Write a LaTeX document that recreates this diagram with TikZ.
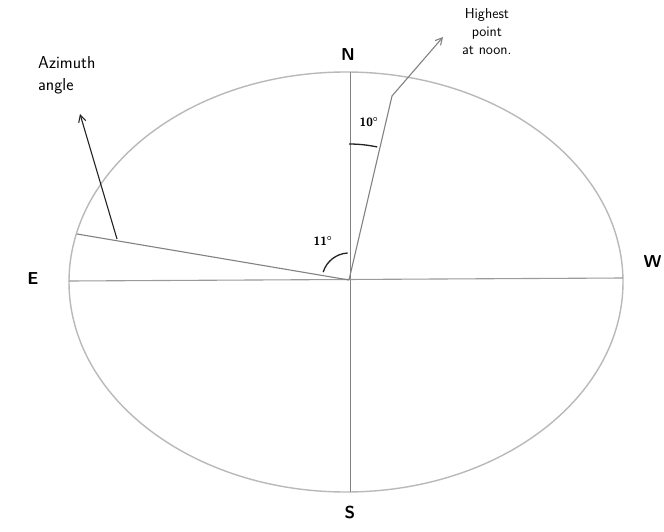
\documentclass[tikz,border=0pt]{standalone}
\usepackage{amsmath,tikz}
\usetikzlibrary{arrows.meta}
\definecolor{skyG}{RGB}{185,185,185}
\definecolor{skyL}{RGB}{130,130,130}
\definecolor{skyK}{RGB}{35,35,35}

\begin{document}
\begin{tikzpicture}[x=1pt,y=-1pt,>={Straight Barb[length=2.4mm,width=2.6mm]},font=\sffamily]
\useasboundingbox (0,0) rectangle (664,532);
\coordinate (O) at (349,280);
\coordinate (Ntop) at (350,72);
\coordinate (Sbot) at (350,492);
\coordinate (Eleft) at (69,281);
\coordinate (Wright) at (623,278);
\coordinate (azEdge) at (77,234);
\coordinate (azFoot) at (117,239);
\coordinate (azTip) at (80,114);
\coordinate (hiKnee) at (392,96);
\coordinate (hiTip) at (443,37);
\fill[white] (0,0) rectangle (664,532);
\draw[skyG,line width=1.4pt] (346,282) ellipse [x radius=277,y radius=210];
\draw[skyL,line width=0.7pt] (Ntop)--(Sbot);
\draw[skyL!80,line width=1.1pt] (Eleft)--(Wright);
\draw[skyL,line width=1.1pt] (O)--(azEdge);
\draw[skyK,line width=1.1pt,->] (azFoot)--(azTip);
\draw[skyL,line width=1.1pt] (O)--(hiKnee);
\draw[skyL,line width=1.1pt,->] (hiKnee)--(hiTip);
% y points down, so angles run clockwise
\draw[skyK,line width=1.3pt] (O) ++(-163:27) arc[start angle=-163,end angle=-93,radius=27];
\draw[skyK,line width=1.3pt] (O) ++(-90:136) arc[start angle=-90,end angle=-78,radius=136];
\node[font=\LARGE\bfseries\sffamily] (lblN) at (348,55) {N};
\node[font=\LARGE\bfseries\sffamily] (lblS) at (350,512) {S};
\node[font=\LARGE\bfseries\sffamily] (lblE) at (33,279) {E};
\node[font=\LARGE\bfseries\sffamily,anchor=west] (lblW) at (640,262) {W};
\node[font=\large\bfseries\sffamily] (ang11) at (323,241) {11$^{\boldsymbol{\circ}}$};
\node[font=\large\bfseries\sffamily] (ang10) at (369,122) {10$^{\boldsymbol{\circ}}$};
\node[font=\LARGE\sffamily,align=left,anchor=north west,inner sep=0pt] (lblAz) at (38,56) {Azimuth\\angle};
\node[font=\Large\sffamily,align=center,anchor=north west,inner sep=0pt] (lblHi) at (462,8) {Highest\\point\\at noon.};
\end{tikzpicture}
\end{document}
